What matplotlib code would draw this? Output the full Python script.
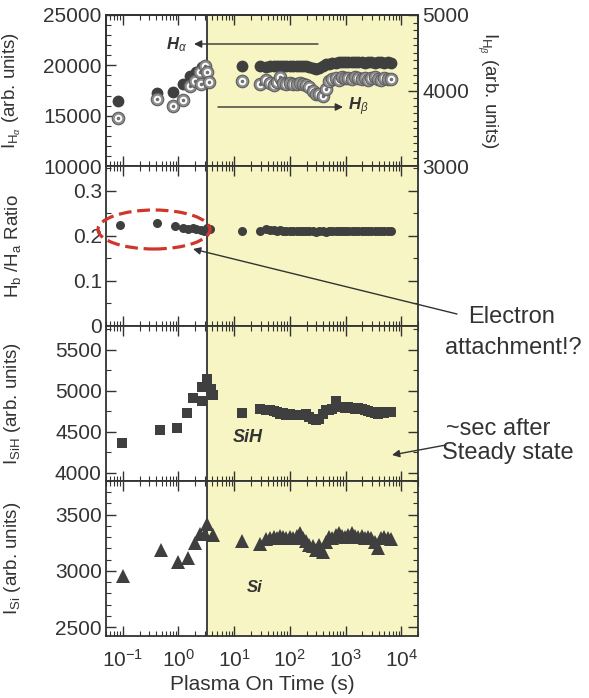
import numpy as np
import matplotlib
matplotlib.use("Agg")
import matplotlib.pyplot as plt
from matplotlib.patches import Ellipse
from matplotlib.ticker import MultipleLocator, LogLocator

plt.rcParams['font.family'] = ['Liberation Sans', 'DejaVu Sans']
plt.rcParams['mathtext.fontset'] = 'custom'
plt.rcParams['mathtext.rm'] = 'Liberation Sans'
plt.rcParams['mathtext.it'] = 'Liberation Sans:italic'
plt.rcParams['mathtext.bf'] = 'Liberation Sans:bold'

INK = '#333333'
DOT = '#3f3f3f'
YELLOW = '#f6f5c3'
T_ON = 3.3      # start of the shaded steady-state window (s)
XMIN, XMAX = 0.05, 2e4

# Halpha (left axis) / Hbeta (right axis) emission intensity
t_ha_early = [0.081, 0.41, 0.79, 1.19, 1.59, 2.1, 2.6]
ha_early = [16500, 17300, 17400, 18100, 18900, 19300, 19800]
t_hb_early = [0.081, 0.41, 0.79, 1.19, 1.59, 1.95, 2.4, 2.5, 2.95, 3.3, 3.6]
hb_early = [3640, 3885, 3790, 3870, 4060, 4130, 4240, 4090, 4330, 4250, 4115]

# sampling times after the discharge settles
t_late = [14, 29, 38, 44, 51, 58, 66, 76, 87, 100, 115, 132, 150, 172, 197,
          225, 258, 295, 338, 386, 442, 505, 578, 661, 756, 865, 990, 1130,
          1290, 1480, 1690, 1940, 2220, 2540, 2900, 3320, 3800, 4350, 4970,
          5690, 6500]
ha_late = [19900, 19900, 19850, 19900, 19950, 19900, 19900, 19950, 19900, 19950,
           19900, 19950, 19900, 19900, 19950, 19800, 19700, 19650, 19750, 19950,
           20100, 20150, 20200, 20250, 20300, 20300, 20350, 20300, 20300, 20350,
           20300, 20300, 20250, 20300, 20300, 20250, 20300, 20300, 20250, 20300, 20250]
hb_late = [4130, 4090, 4140, 4100, 4070, 4110, 4180, 4100, 4080, 4100,
           4090, 4080, 4100, 4090, 4070, 4040, 3990, 3960, 3950, 3930,
           4020, 4120, 4150, 4170, 4140, 4180, 4160, 4170, 4150, 4180,
           4160, 4150, 4170, 4140, 4160, 4180, 4150, 4140, 4170, 4150, 4150]

# Hbeta / Halpha ratio
t_ratio_early = [0.088, 0.42, 0.86, 1.2, 1.5, 1.8, 2.1, 2.5, 2.9, 3.3, 3.7]
ratio_early = [0.225, 0.229, 0.221, 0.217, 0.216, 0.217, 0.215, 0.214, 0.210, 0.217, 0.215]
ratio_late = [0.211, 0.211, 0.215, 0.213, 0.212, 0.211, 0.212, 0.211, 0.210, 0.211,
              0.211, 0.210, 0.211, 0.211, 0.210, 0.211, 0.210, 0.209, 0.210, 0.210,
              0.209, 0.210, 0.211, 0.210, 0.210, 0.211, 0.210, 0.210, 0.211, 0.210,
              0.210, 0.211, 0.210, 0.210, 0.211, 0.210, 0.210, 0.211, 0.210, 0.210, 0.211]

# SiH emission
t_sih_early = [0.096, 0.46, 0.93, 1.4, 1.8, 2.7, 2.7, 3.2, 3.8, 4.1]
sih_early = [4360, 4516, 4552, 4734, 4915, 4880, 5050, 5145, 5025, 4950]
sih_late = [4730, 4780, 4760, 4760, 4750, 4740, 4720, 4730, 4710, 4720,
            4710, 4700, 4710, 4700, 4720, 4680, 4650, 4640, 4660, 4720,
            4760, 4770, 4780, 4870, 4800, 4800, 4790, 4800, 4790, 4780,
            4790, 4780, 4760, 4750, 4740, 4730, 4720, 4740, 4730, 4740, 4740]

# Si emission
t_si_early = [0.1, 0.48, 0.97, 1.46, 1.95, 2.4, 2.95, 3.3, 4.1]
si_early = [2955, 3188, 3080, 3116, 3250, 3330, 3330, 3420, 3321]
si_late = [3270, 3240, 3280, 3290, 3300, 3290, 3310, 3300, 3290, 3300,
           3290, 3310, 3340, 3290, 3270, 3230, 3220, 3190, 3230, 3170,
           3260, 3300, 3290, 3320, 3340, 3310, 3300, 3320, 3340, 3310,
           3300, 3310, 3290, 3300, 3290, 3260, 3200, 3290, 3300, 3290, 3280]

W, H = 589, 698
fig = plt.figure(figsize=(W / 100, H / 100), dpi=100)


def fx(px):
    return px / W


def fy(py):
    return 1 - py / H


def panel(top, bottom):
    ax = fig.add_axes([fx(106), fy(bottom), (418 - 106) / W, (bottom - top) / H])
    ax.set_xscale('log')
    ax.set_xlim(XMIN, XMAX)
    ax.axvspan(T_ON, XMAX, color=YELLOW, lw=0, zorder=0)
    ax.axvline(T_ON, color=INK, lw=1.3, zorder=1)
    ax.xaxis.set_major_locator(LogLocator(base=10, numticks=12))
    ax.xaxis.set_minor_locator(LogLocator(base=10, subs=np.arange(2, 10), numticks=12))
    ax.tick_params(which='both', direction='in', top=True, right=True,
                   colors=INK, labelsize=15, pad=3)
    ax.tick_params(which='major', length=7, width=1)
    ax.tick_params(which='minor', length=3.5, width=0.8)
    ax.tick_params(axis='x', labelbottom=False)
    for s in ax.spines.values():
        s.set_color(INK)
        s.set_linewidth(1.3)
    ax.yaxis.set_label_coords(-0.265, 0.5)
    return ax


# ---- panel 1: Halpha and Hbeta
ax1 = panel(15, 166)
ax1.set_ylim(10000, 25000)
ax1.yaxis.set_major_locator(MultipleLocator(5000))
ax1.yaxis.set_minor_locator(MultipleLocator(1000))
ax1.plot(t_ha_early + t_late, ha_early + ha_late, 'o', ms=8.5, color=DOT, mew=0, zorder=3)
ax1.set_ylabel(r'I$_{\mathrm{H}_{\alpha}}$ (arb. units)', fontsize=13.5, color=INK)

ax1b = ax1.twinx()
ax1b.set_ylim(3000, 5000)
ax1b.yaxis.set_major_locator(MultipleLocator(1000))
ax1b.yaxis.set_minor_locator(MultipleLocator(100))
ax1b.tick_params(which='both', direction='in', colors=INK, labelsize=15, pad=3)
ax1b.tick_params(which='major', length=7, width=1)
ax1b.tick_params(which='minor', length=3.5, width=0.8)
for s in ax1b.spines.values():
    s.set_color(INK)
    s.set_linewidth(1.3)
# ring markers drawn one by one so each ring covers the one before it
for i, (t, v) in enumerate(zip(t_hb_early + t_late, hb_early + hb_late)):
    z = 3 + 0.01 * i
    ax1b.plot([t], [v], 'o', ms=9, mfc='#8e8e8e', mec='#5e5e5e', mew=0.8, zorder=z)
    ax1b.plot([t], [v], 'o', ms=5.4, mfc='white', mew=0, zorder=z + 0.003)
    ax1b.plot([t], [v], 'o', ms=2.6, mfc='#707070', mew=0, zorder=z + 0.006)
ax1b.set_ylabel(r'I$_{\mathrm{H}_{\beta}}$ (arb. units)', fontsize=13.5, color=INK,
                rotation=-90, va='center', ha='center')
ax1b.yaxis.set_label_coords(1.22, 0.5)

# ---- panel 2: ratio
ax2 = panel(166, 326)
ax2.set_ylim(0, 0.355)
ax2.set_yticks([0, 0.1, 0.2, 0.3])
ax2.set_yticklabels(['0', '0.1', '0.2', '0.3'])
ax2.yaxis.set_minor_locator(MultipleLocator(0.05))
ax2.plot(t_ratio_early + t_late, ratio_early + ratio_late, 'o', ms=6.5,
         color=DOT, mew=0, zorder=3)
ax2.set_ylabel(r'H$_\mathrm{b}$ /H$_\mathrm{a}$ Ratio', fontsize=13.5, color=INK)

# ---- panel 3: SiH
ax3 = panel(326, 481)
ax3.set_ylim(3900, 5790)
ax3.yaxis.set_major_locator(MultipleLocator(500))
ax3.yaxis.set_minor_locator(MultipleLocator(250))
ax3.plot(t_sih_early + t_late, sih_early + sih_late, 's', ms=7.5, color=DOT,
         mew=0, zorder=3)
ax3.set_ylabel(r'I$_\mathrm{SiH}$ (arb. units)', fontsize=13.5, color=INK)

# ---- panel 4: Si
ax4 = panel(481, 636)
ax4.set_ylim(2420, 3800)
ax4.yaxis.set_major_locator(MultipleLocator(500))
ax4.yaxis.set_minor_locator(MultipleLocator(100))
ax4.plot(t_si_early + t_late, si_early + si_late, '^', ms=9.5, color=DOT,
         mew=0, zorder=3)
ax4.set_ylabel(r'I$_\mathrm{Si}$ (arb. units)', fontsize=13.5, color=INK)
ax4.tick_params(axis='x', labelbottom=True, pad=9)
ax4.set_xlabel('Plasma On Time (s)', fontsize=15, color=INK, labelpad=3)

# ---- annotations
arrow = dict(arrowstyle='-|>', color=INK, lw=1.0, mutation_scale=11, shrinkA=0, shrinkB=0)
fig.text(fx(177), fy(45), r'H$_\alpha$', fontsize=12, fontweight='bold', style='italic',
         color=INK, ha='center', va='center')
ax1.annotate('', xy=(fx(194), fy(44)), xytext=(fx(318), fy(44)),
             xycoords='figure fraction', arrowprops=arrow)
fig.text(fx(358), fy(107), r'H$_\beta$', fontsize=12, fontweight='bold', style='italic',
         color=INK, ha='center', va='center')
ax1.annotate('', xy=(fx(343), fy(107)), xytext=(fx(218), fy(107)),
             xycoords='figure fraction', arrowprops=arrow)

fig.add_artist(Ellipse((fx(154), fy(229.5)), width=112 / W, height=39 / H,
                       transform=fig.transFigure, fill=False, ec='#d0352c',
                       lw=2.3, ls=(0, (4, 1.8))))
note = dict(fontsize=17, color=INK, va='center')
fig.text(fx(512), fy(317), 'Electron', ha='center', **note)
fig.text(fx(513), fy(348), 'attachment!?', ha='center', **note)
ax2.annotate('', xy=(fx(193), fy(249)), xytext=(fx(457), fy(314)),
             xycoords='figure fraction', arrowprops=arrow)

fig.text(fx(446), fy(429), '~sec after', ha='left', **note)
fig.text(fx(442), fy(453), 'Steady state', ha='left', **note)
ax3.annotate('', xy=(fx(392), fy(455)), xytext=(fx(446), fy(445)),
             xycoords='figure fraction', arrowprops=arrow)

ax3.text(0.455, 0.28, 'SiH', transform=ax3.transAxes, fontsize=13, fontweight='bold',
         style='italic', color=INK, ha='center', va='center')
ax4.text(0.478, 0.31, 'Si', transform=ax4.transAxes, fontsize=12, fontweight='bold',
         style='italic', color=INK, ha='center', va='center')

fig.savefig('out.png', dpi=100)
